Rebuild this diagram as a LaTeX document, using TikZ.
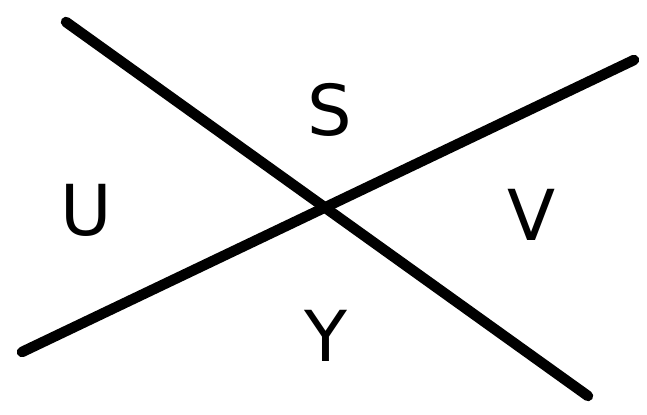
\documentclass[tikz,border=0pt]{standalone}
\usepackage{fontspec}
\setsansfont{DejaVu Sans}
\usepackage{tikz}
\usetikzlibrary{positioning}

\begin{document}
\begin{tikzpicture}[
    x=0.02cm, y=-0.02cm,
    bar/.style={line width=0.21cm, line cap=round},
    sector/.style={font=\fontsize{40}{42}\sffamily, inner sep=0pt}
  ]
  \useasboundingbox (0,0) rectangle (647,415);

  % line ends
  \coordinate (a1) at (66,22);
  \coordinate (a2) at (588,396);
  \coordinate (b1) at (22,352);
  \coordinate (b2) at (634,60);

  \draw[bar] (a1) -- (a2);
  \draw[bar] (b1) -- (b2);

  % regions
  \node[sector] (s) at (330,110) {S};
  \node[sector] (u) at (86,210) {U};
  \node[sector] (v) at (532,215) {V};
  \node[sector] (y) at (326,336) {Y};
\end{tikzpicture}
\end{document}
